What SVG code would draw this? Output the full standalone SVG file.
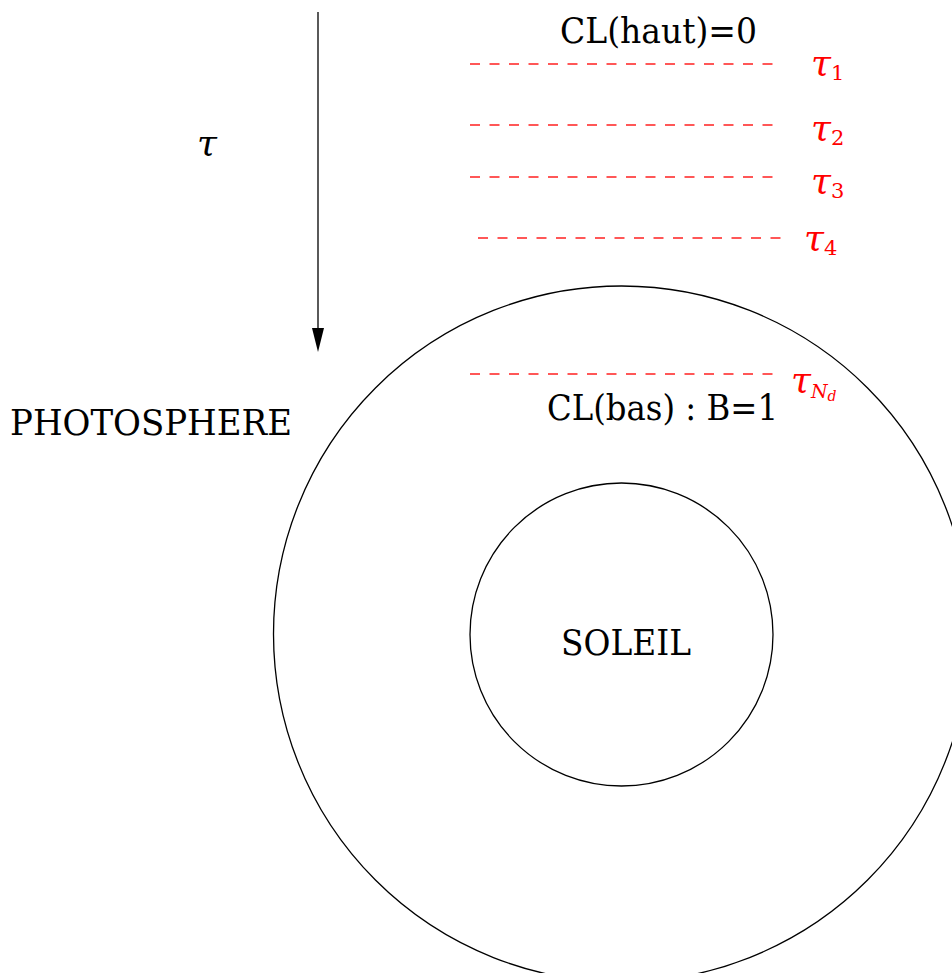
<svg xmlns="http://www.w3.org/2000/svg" width="952" height="973" viewBox="0 0 952 973">
<defs>
<style>
.lbl{font-family:'DejaVu Serif',serif;font-size:36px;fill:#000}
.tau{font-family:'DejaVu Serif',serif;font-style:italic;font-size:36px;fill:#ff0000}
.sub{font-size:21px;font-style:normal}
.subi{font-style:italic}
.dash{stroke:#ff2020;stroke-width:1.3;stroke-dasharray:10 9.5;fill:none}
.circ{fill:none;stroke:#000;stroke-width:1.3}
</style>
</defs>
<rect width="952" height="973" fill="#fff"/>
<g id="photosphere">
<circle class="circ" cx="621.5" cy="634" r="348"/>
<text class="lbl" x="10" y="435" textLength="282" lengthAdjust="spacingAndGlyphs">PHOTOSPHERE</text>
</g>
<g id="soleil">
<circle class="circ" cx="621.5" cy="634.5" r="151.5"/>
<text class="lbl" x="561" y="655" textLength="130" lengthAdjust="spacingAndGlyphs">SOLEIL</text>
</g>
<g id="tau-axis">
<text class="tau" x="197" y="155" style="fill:#000">τ</text>
</g>
<g id="connectors">
<line x1="318" y1="12" x2="318" y2="330" stroke="#000" stroke-width="1.3"/>
<path d="M312,328 L324,328 L318,352 Z" fill="#000"/>
</g>
<g id="layers">
<text class="lbl" x="560" y="43" textLength="197" lengthAdjust="spacingAndGlyphs">CL(haut)=0</text>
<line class="dash" x1="470" y1="64" x2="780" y2="64"/>
<text class="tau" x="811" y="75">τ<tspan class="sub" dy="5">1</tspan></text>
<line class="dash" x1="470" y1="125" x2="780" y2="125"/>
<text class="tau" x="811" y="140">τ<tspan class="sub" dy="5">2</tspan></text>
<line class="dash" x1="470" y1="177" x2="780" y2="177"/>
<text class="tau" x="811" y="193">τ<tspan class="sub" dy="5">3</tspan></text>
<line class="dash" x1="478" y1="238" x2="788" y2="238"/>
<text class="tau" x="804" y="250">τ<tspan class="sub" dy="5">4</tspan></text>
<line class="dash" x1="470" y1="374" x2="780" y2="374"/>
<text class="tau" x="791" y="392">τ<tspan class="subi" dy="6" font-size="19">N</tspan><tspan class="subi" dy="3" font-size="14">d</tspan></text>
<text class="lbl" x="547" y="420" textLength="231" lengthAdjust="spacingAndGlyphs">CL(bas) : B=1</text>
</g>
</svg>
